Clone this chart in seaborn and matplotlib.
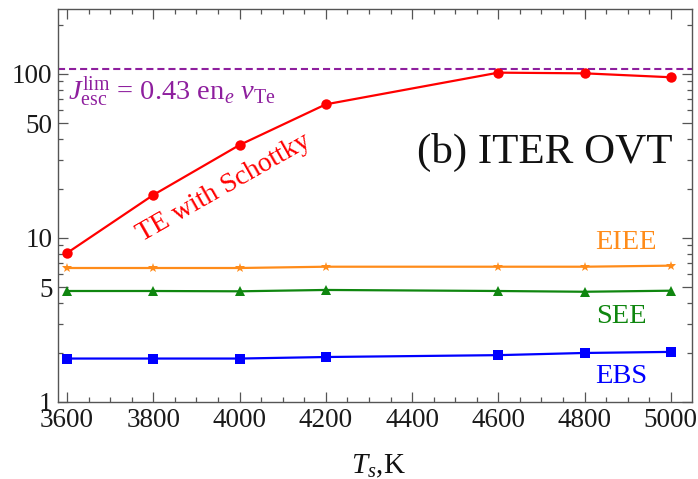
import matplotlib
matplotlib.use("Agg")
import matplotlib.pyplot as plt
import seaborn as sns
from matplotlib.ticker import FixedLocator, MultipleLocator, LogLocator, FuncFormatter, NullFormatter

# Surface temperature (K) and emitted current densities for each mechanism
temperature = [3600, 3800, 4000, 4200, 4600, 4800, 5000]
te_schottky = [8.1, 18.3, 36.9, 65.3, 101.9, 100.9, 95.5]
eiee = [6.56, 6.56, 6.56, 6.68, 6.68, 6.68, 6.78]
see = [4.75, 4.75, 4.73, 4.82, 4.75, 4.70, 4.77]
ebs = [1.84, 1.84, 1.84, 1.88, 1.93, 1.99, 2.02]
j_limit = 107.0

y_major = [1, 5, 10, 50, 100]
x_major = [3600, 3800, 4000, 4200, 4400, 4600, 4800, 5000]

SERIF = ["Liberation Serif", "DejaVu Serif"]

sns.set_theme(style="ticks")
plt.rcParams["font.family"] = SERIF
plt.rcParams["mathtext.fontset"] = "custom"
plt.rcParams["mathtext.rm"] = "Liberation Serif"
plt.rcParams["mathtext.it"] = "Liberation Serif:italic"
plt.rcParams["mathtext.bf"] = "Liberation Serif:bold"

fig = plt.figure(figsize=(6.98, 4.79), dpi=100)
ax = fig.add_axes([0.0831, 0.1608, 0.9083, 0.8204])

red = "#FF0000"
orange = "#FF8C1A"
green = "#0F860F"
blue = "#0000FF"
purple = "#8E1F9E"

ax.axhline(j_limit, color=purple, lw=1.5, dashes=(3.4, 1.9), zorder=2)

sns.lineplot(x=temperature, y=te_schottky, ax=ax, color=red, lw=1.6,
             marker="o", markersize=7.5, markeredgewidth=0, zorder=5)
sns.lineplot(x=temperature, y=eiee, ax=ax, color=orange, lw=1.6,
             marker="*", markersize=7, markeredgewidth=0, zorder=4)
sns.lineplot(x=temperature, y=see, ax=ax, color=green, lw=1.6,
             marker="^", markersize=6.5, markeredgewidth=0, zorder=4)
sns.lineplot(x=temperature, y=ebs, ax=ax, color=blue, lw=1.6,
             marker="s", markersize=6.5, markeredgewidth=0, zorder=4)

ax.set_yscale("log")
ax.set_xlim(3579, 5049)
ax.set_ylim(1, 249)

ax.yaxis.set_major_locator(FixedLocator(y_major))
ax.yaxis.set_major_formatter(FuncFormatter(lambda v, p: f"{v:g}"))
ax.yaxis.set_minor_locator(LogLocator(base=10, subs=range(2, 10)))
ax.yaxis.set_minor_formatter(NullFormatter())
ax.xaxis.set_major_locator(FixedLocator(x_major))
ax.xaxis.set_major_formatter(FuncFormatter(lambda v, p: f"{v:.0f}"))
ax.xaxis.set_minor_locator(MultipleLocator(50))

for s in ax.spines.values():
    s.set_color("#555555")
    s.set_linewidth(1.0)

ax.tick_params(which="both", direction="in", top=True, right=True,
               color="#555555", width=0.9)
ax.tick_params(which="major", length=7, labelsize=19.5, pad=4,
               labelcolor="#1a1a1a")
ax.tick_params(which="minor", length=3.5)
ax.set_xlabel("")
ax.set_ylabel("")

ax.text(0.970, 0.608, "(b) ITER OVT", transform=ax.transAxes,
        ha="right", va="baseline", fontsize=31, color="#111111")
ax.text(0.896, 0.389, "EIEE", transform=ax.transAxes,
        ha="center", va="baseline", fontsize=20.5, color=orange)
ax.text(0.888, 0.201, "SEE", transform=ax.transAxes,
        ha="center", va="baseline", fontsize=20.5, color=green)
ax.text(0.888, 0.048, "EBS", transform=ax.transAxes,
        ha="center", va="baseline", fontsize=20.5, color=blue)
ax.text(0.262, 0.545, "TE with Schottky", transform=ax.transAxes,
        ha="center", va="center", rotation=29.6, rotation_mode="anchor",
        fontsize=20, color=red)
ax.text(0.016, 0.768,
        r"$J_{\rm esc}^{\rm lim}$ = 0.43 en$_e$ $v_{\rm Te}$",
        transform=ax.transAxes, ha="left", va="baseline",
        fontsize=20.5, color=purple)

fig.text(378 / 698, 6 / 479, r"$T_s$,K", ha="center", va="baseline",
         fontsize=21, color="#111111")

fig.canvas.draw()
for lbl in ax.get_xticklabels() + ax.get_yticklabels():
    lbl.set_fontfamily(SERIF)

fig.savefig("out.png", dpi=100)
